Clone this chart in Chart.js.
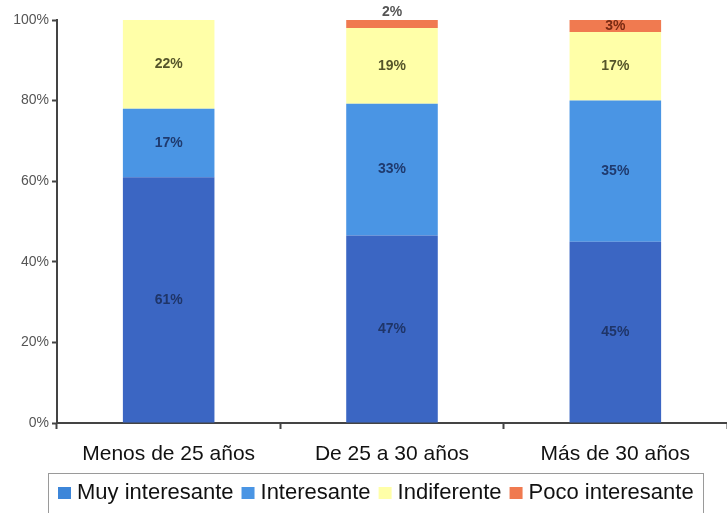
<!DOCTYPE html>
<html lang="es">
<head>
    <meta charset="UTF-8">
    <title>Interés por grupo de edad</title>
    <script src="https://cdn.jsdelivr.net/npm/chart.js"></script>
    <style>
        body { margin: 0; background: #fff; }
        #wrap { width: 727px; height: 513px; }
    </style>
</head>
<body>
    <div id="wrap"><canvas id="grafico"></canvas></div>
    <script>
        // Datos
        const categorias = ['Menos de 25 años', 'De 25 a 30 años', 'Más de 30 años'];
        const series = ['Muy interesante', 'Interesante', 'Indiferente', 'Poco interesante'];
        const muyInteresante = [61, 47, 45];
        const interesante = [17, 33, 35];
        const indiferente = [22, 19, 17];
        const pocoInteresante = [0, 2, 3];
        const ticksY = [0, 20, 40, 60, 80, 100];

        const colores = ['#3b66c3', '#4a95e4', '#ffffa8', '#f07a50'];
        const coloresTexto = ['#1f3568', '#1f3a6e', '#55552a', '#7a2a12'];

        const valores = [muyInteresante, interesante, indiferente, pocoInteresante];
        // apilado al 100%, como en el original
        const totales = categorias.map((c, i) => valores.reduce((s, v) => s + v[i], 0));

        const datasets = series.map((nombre, k) => ({
            label: nombre,
            data: valores[k].map((v, i) => v / totales[i] * 100),
            crudos: valores[k],
            backgroundColor: colores[k],
            borderWidth: 0,
            barPercentage: 0.41,
            categoryPercentage: 1
        }));

        // etiquetas de porcentaje dentro de cada segmento
        const etiquetas = {
            id: 'etiquetas',
            afterDatasetsDraw(chart) {
                const ctx = chart.ctx;
                ctx.save();
                ctx.font = 'bold 14px "Liberation Sans", Arial, sans-serif';
                ctx.textAlign = 'center';
                ctx.textBaseline = 'middle';
                chart.data.datasets.forEach((ds, k) => {
                    chart.getDatasetMeta(k).data.forEach((bar, i) => {
                        const v = ds.crudos[i];
                        if (!v) return;
                        const alto = Math.abs(bar.base - bar.y);
                        let y = (bar.y + bar.base) / 2;
                        ctx.fillStyle = coloresTexto[k];
                        if (alto < 10) {
                            y = bar.y - 8;
                            ctx.fillStyle = '#555';
                        }
                        ctx.fillText(v + '%', bar.x, y);
                    });
                });
                ctx.restore();
            }
        };

        // leyenda con recuadro, dibujada a mano
        const leyenda = {
            id: 'leyenda',
            afterDraw(chart) {
                const ctx = chart.ctx;
                ctx.save();
                ctx.strokeStyle = '#9a9a9a';
                ctx.lineWidth = 1;
                ctx.strokeRect(48.5, 473.5, 655, 60);
                ctx.font = '22px "Liberation Sans", Arial, sans-serif';
                ctx.textBaseline = 'middle';
                let x = 58;
                chart.data.datasets.forEach((ds, k) => {
                    ctx.fillStyle = k === 0 ? '#3d86d9' : ds.backgroundColor;
                    ctx.fillRect(x, 487, 13, 12);
                    ctx.fillStyle = '#111';
                    ctx.fillText(ds.label, x + 19, 493);
                    x += 19 + ctx.measureText(ds.label).width + 8;
                });
                ctx.restore();
            }
        };

        new Chart(document.getElementById('grafico'), {
            type: 'bar',
            data: { labels: categorias, datasets: datasets },
            options: {
                responsive: true,
                maintainAspectRatio: false,
                animation: false,
                layout: { padding: { top: 20, right: 0, left: 0, bottom: 0 } },
                plugins: {
                    legend: { display: false },
                    tooltip: { enabled: false }
                },
                scales: {
                    x: {
                        stacked: true,
                        afterFit(scale) { scale.height = 90; },
                        grid: {
                            offset: true,
                            drawOnChartArea: false,
                            color: '#444',
                            tickLength: 6,
                            tickWidth: 2
                        },
                        border: { color: '#444', width: 2 },
                        ticks: {
                            color: '#111',
                            padding: 13,
                            font: { family: '"Liberation Sans", Arial, sans-serif', size: 21 }
                        }
                    },
                    y: {
                        stacked: true,
                        min: 0,
                        max: 100,
                        afterFit(scale) { scale.width = 57; },
                        afterBuildTicks(scale) { scale.ticks = ticksY.map(v => ({ value: v })); },
                        grid: {
                            drawOnChartArea: false,
                            color: '#444',
                            tickLength: 5,
                            tickWidth: 2
                        },
                        border: { color: '#444', width: 2 },
                        ticks: {
                            color: '#555',
                            padding: 3,
                            font: { family: '"Liberation Sans", Arial, sans-serif', size: 14 },
                            callback: v => v + '%'
                        }
                    }
                }
            },
            plugins: [etiquetas, leyenda]
        });
    </script>
</body>
</html>
